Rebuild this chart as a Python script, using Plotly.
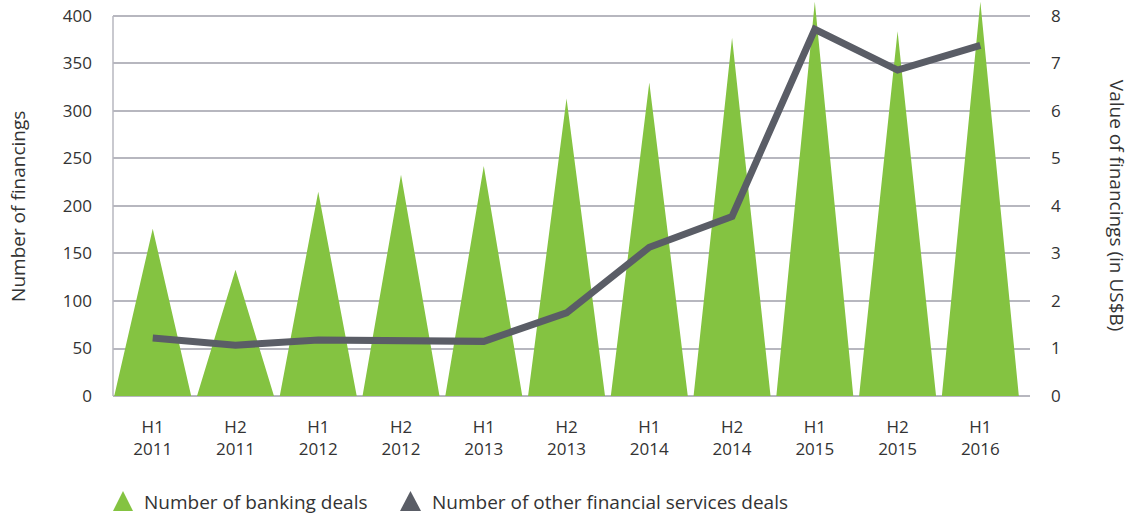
import plotly.graph_objects as go

periods = ['H1<br>2011', 'H2<br>2011', 'H1<br>2012', 'H2<br>2012', 'H1<br>2013', 'H2<br>2013',
           'H1<br>2014', 'H2<br>2014', 'H1<br>2015', 'H2<br>2015', 'H1<br>2016']
banking_deals = [176, 133, 215, 233, 242, 313, 330, 377, 415, 384, 415]
other_value = [1.22, 1.07, 1.18, 1.16, 1.15, 1.75, 3.13, 3.78, 7.72, 6.86, 7.38]
left_ticks = [0, 50, 100, 150, 200, 250, 300, 350, 400]
right_ticks = [0, 1, 2, 3, 4, 5, 6, 7, 8]
legend_names = ['Number of banking deals', 'Number of other financial services deals']

GREEN = '#84c341'
GREY = '#5a5d66'
GRID = '#b7b7bf'
FONT = 'Open Sans'
FS = 17

# triangle outline per period, on the numeric category positions
half = 0.465
tx, ty = [], []
for i, v in enumerate(banking_deals):
    tx += [i - half, i, i + half, i - half, None]
    ty += [0, v, 0, 0, None]

pos = list(range(len(periods)))

fig = go.Figure()
fig.add_trace(go.Scatter(x=tx, y=ty, mode='lines', fill='toself', fillcolor=GREEN,
                         line=dict(width=0, color=GREEN), showlegend=False, hoverinfo='skip'))
fig.add_trace(go.Scatter(x=pos, y=other_value, mode='lines', yaxis='y2',
                         line=dict(color=GREY, width=7), showlegend=False))

# left axis line only up to the top gridline
fig.add_shape(type='line', xref='paper', x0=0, x1=0, yref='y', y0=0, y1=left_ticks[-1],
              line=dict(color=GRID, width=1.5), layer='below')

# legend: triangle symbols as paper shapes + text, so nothing pushes the margins
legend_ann = []
for (x0, xc, x1), txt_x, name, col in [((0.0, 0.0109, 0.0218), 0.0316, legend_names[0], GREEN),
                                       ((0.313, 0.3244, 0.3359), 0.3457, legend_names[1], GREY)]:
    fig.add_shape(type='path', xref='paper', yref='paper',
                  path=f'M {x0} -0.2904 L {x1} -0.2904 L {xc} -0.2399 Z',
                  fillcolor=col, line=dict(width=0))
    legend_ann.append(dict(text=name, xref='paper', yref='paper', x=txt_x, y=-0.268,
                           xanchor='left', yanchor='middle', showarrow=False,
                           font=dict(size=19)))

fig.update_layout(
    width=1138, height=514,
    margin=dict(l=113, r=108, t=0, b=118),
    paper_bgcolor='white', plot_bgcolor='white',
    font=dict(family=FONT, size=FS, color='#333333'),
    showlegend=False,
    xaxis=dict(range=[-0.48, 10.6], tickmode='array', tickvals=pos, ticktext=periods,
               showgrid=False, zeroline=False, showline=False, ticks='', ticklabelstandoff=19,
               automargin=False),
    yaxis=dict(range=[0, 416.8], tickmode='array', tickvals=left_ticks, showgrid=True,
               gridcolor=GRID, gridwidth=1.5,
               zeroline=True, zerolinecolor=GRID, zerolinewidth=1.5,
               showline=False, ticks='', ticklabelstandoff=20, automargin=False),
    yaxis2=dict(range=[0, 8.336], tickmode='array', tickvals=right_ticks, overlaying='y',
                side='right', showgrid=False, zeroline=False, showline=False, ticks='',
                ticklabelstandoff=20, automargin=False),
    annotations=[
        dict(text='Number of financings', xref='paper', yref='paper', x=-0.1036, y=0.48,
             xanchor='center', yanchor='middle', textangle=-90, showarrow=False,
             font=dict(size=19)),
        dict(text='Value of financings (in US$B)', xref='paper', yref='paper', x=1.095, y=0.48,
             xanchor='center', yanchor='middle', textangle=90, showarrow=False,
             font=dict(size=19)),
    ] + legend_ann,
)

fig.write_html('out.html', config={'displayModeBar': False},
               post_script="document.body.style.margin='0px';")
